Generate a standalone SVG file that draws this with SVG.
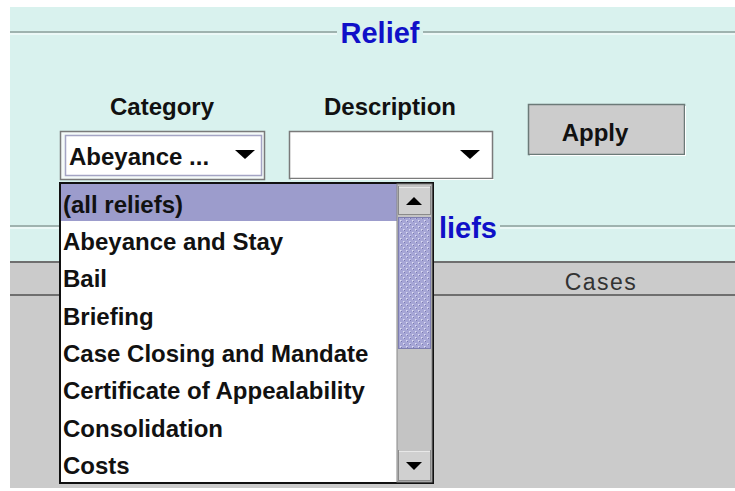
<svg xmlns="http://www.w3.org/2000/svg" width="735" height="491" viewBox="0 0 735 491">
  <defs>
    <style>
      .b { font-family: "Liberation Sans", Arial, sans-serif; font-weight: bold; font-size: 24px; fill: #111; }
      .t { font-family: "Liberation Sans", Arial, sans-serif; font-weight: bold; font-size: 29px; fill: #1010c8; }
      .r { font-family: "Liberation Sans", Arial, sans-serif; font-size: 23px; fill: #333; letter-spacing: 1.5px; }
      .etch { stroke: #9fb3af; stroke-width: 2; }
      .hl { stroke: #ffffff; stroke-width: 1; }
    </style>
    <pattern id="dots" width="6" height="6" patternUnits="userSpaceOnUse">
      <rect width="6" height="6" fill="#a6a6d6"/>
      <rect x="1" y="1" width="1.5" height="1.5" fill="#dcdcf2"/>
      <rect x="4" y="4" width="1.5" height="1.5" fill="#dcdcf2"/>
      <rect x="2" y="2" width="1" height="1" fill="#7a7ab0"/>
      <rect x="5" y="5" width="1" height="1" fill="#7a7ab0"/>
    </pattern>
  </defs>

  <!-- background -->
  <rect x="0" y="0" width="735" height="491" fill="#ffffff"/>
  <rect x="10" y="7" width="725" height="256" fill="#d9f2ee"/>
  <rect x="10" y="263" width="725" height="225" fill="#cbcbcb"/>

  <!-- Relief title line -->
  <g id="relief-title">
    <line class="etch" x1="10" y1="32" x2="337" y2="32"/>
    <line class="hl" x1="10" y1="34" x2="337" y2="34"/>
    <line class="etch" x1="423" y1="32" x2="735" y2="32"/>
    <line class="hl" x1="423" y1="34" x2="735" y2="34"/>
    <text class="t" x="380" y="43" text-anchor="middle">Relief</text>
  </g>

  <!-- Reliefs title line (partly hidden) -->
  <g id="reliefs-title">
    <line class="etch" x1="10" y1="226" x2="60" y2="226"/>
    <line class="hl" x1="10" y1="228" x2="60" y2="228"/>
    <line class="etch" x1="500" y1="226" x2="735" y2="226"/>
    <line class="hl" x1="500" y1="228" x2="735" y2="228"/>
    <text class="t" x="497" y="238" text-anchor="end">liefs</text>
  </g>

  <!-- Cases header -->
  <g id="cases-header">
    <line x1="10" y1="262" x2="735" y2="262" stroke="#6f6f6f" stroke-width="2"/>
    <line x1="10" y1="295" x2="735" y2="295" stroke="#6f6f6f" stroke-width="2"/>
    <text class="r" x="601" y="290" text-anchor="middle">Cases</text>
  </g>

  <!-- labels -->
  <g id="category-label"><text class="b" x="162" y="115" text-anchor="middle">Category</text></g>
  <g id="description-label"><text class="b" x="390" y="115" text-anchor="middle">Description</text></g>

  <!-- Category combo -->
  <g id="category-combo">
    <rect x="60.5" y="131.5" width="204" height="48" fill="#f4faf9" stroke="#7a7a7a" stroke-width="1.5"/>
    <rect x="65.5" y="135.5" width="196" height="40" fill="#ffffff" stroke="#a4a4c4" stroke-width="1.5"/>
    <text class="b" x="69" y="165">Abeyance ...</text>
    <polygon points="235,150 255,150 245,159" fill="#000"/>
  </g>

  <!-- Description combo -->
  <g id="description-combo">
    <rect x="289.5" y="131.5" width="203" height="47" fill="#ffffff" stroke="#7a7a7a" stroke-width="1.5"/>
    <line x1="291" y1="179.5" x2="494" y2="179.5" stroke="#ffffff" stroke-width="1"/>
    <polygon points="460,150 480,150 470,159" fill="#000"/>
  </g>

  <!-- Apply button -->
  <g id="apply-button">
    <rect x="528.5" y="104.5" width="156" height="50" fill="#cccccc" stroke="#6c7a78" stroke-width="1.5"/>
    <line x1="530" y1="155.5" x2="686" y2="155.5" stroke="#ffffff" stroke-width="1"/>
    <line x1="685.5" y1="106" x2="685.5" y2="156" stroke="#ffffff" stroke-width="1"/>
    <text class="b" x="595" y="141" text-anchor="middle">Apply</text>
  </g>

  <!-- Dropdown list -->
  <g id="dropdown-list">
    <rect x="60" y="183" width="373" height="300" fill="#ffffff" stroke="#111" stroke-width="2"/>
    <rect x="61" y="184" width="336" height="37" fill="#9c9ccc"/>
    <text class="b" x="63" y="213">(all reliefs)</text>
    <text class="b" x="63" y="250">Abeyance and Stay</text>
    <text class="b" x="63" y="287">Bail</text>
    <text class="b" x="63" y="325">Briefing</text>
    <text class="b" x="63" y="362">Case Closing and Mandate</text>
    <text class="b" x="63" y="399">Certificate of Appealability</text>
    <text class="b" x="63" y="437">Consolidation</text>
    <text class="b" x="63" y="474">Costs</text>
  </g>

  <!-- Scrollbar -->
  <g id="scrollbar">
    <rect x="397" y="184" width="35" height="298" fill="#c4c4c4" stroke="#888" stroke-width="1"/>
    <rect x="398.5" y="186.5" width="32" height="28" fill="#d0d0d0" stroke="#8a8a8a" stroke-width="1"/>
    <line x1="399" y1="187" x2="430" y2="187" stroke="#fff" stroke-width="1"/>
    <polygon points="406,205 422,205 414,197" fill="#000"/>
    <rect x="398.5" y="217.5" width="32" height="131" fill="url(#dots)" stroke="#7e7eb0" stroke-width="1"/>
    <rect x="398.5" y="450.5" width="32" height="30" fill="#d0d0d0" stroke="#8a8a8a" stroke-width="1"/>
    <line x1="399" y1="451" x2="430" y2="451" stroke="#fff" stroke-width="1"/>
    <polygon points="406,462 422,462 414,470" fill="#000"/>
  </g>
</svg>
